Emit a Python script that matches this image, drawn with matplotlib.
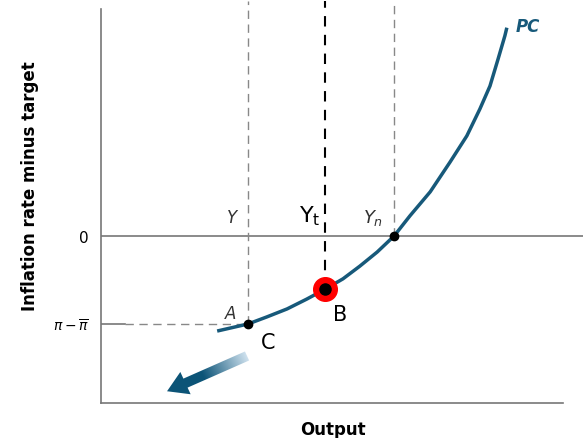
import matplotlib.pyplot as plt
import numpy as np
from matplotlib.patches import FancyArrow

# Phillips curve (output, inflation minus target)
pc_output = [2.41, 3.05, 3.44, 3.86, 4.27, 4.65, 5.02, 5.37, 5.73, 6.08,
             6.41, 6.83, 7.24, 7.59, 7.86, 8.07, 8.24, 8.38, 8.42]
pc_gap = [-2.02, -1.87, -1.72, -1.55, -1.34, -1.13, -0.91, -0.64, -0.34, 0.0,
          0.43, 0.94, 1.57, 2.13, 2.70, 3.19, 3.77, 4.26, 4.43]

point_a = (3.05, -1.87)
point_b = (4.65, -1.13)
point_yn = (6.08, 0.0)

ytick_values = [0.0, -1.87]
ytick_labels = ["0", r"$\pi-\overline{\pi}$"]

arrow_tail = (3.03, -2.55)
arrow_head = (1.37, -3.30)

TEAL = "#17597a"


def main() -> None:
    fig = plt.figure(figsize=(5.83, 4.39), dpi=100)
    ax = fig.add_axes([101 / 583, 35 / 439, 482 / 583, 404 / 439])
    ax.set_xlim(0, 10)
    ax.set_ylim(-3.55, 5.04)

    for side in ["top", "right"]:
        ax.spines[side].set_visible(False)
    ax.spines["left"].set_bounds(-3.55, 4.83)
    ax.spines["bottom"].set_bounds(0, 9.59)
    for side in ["left", "bottom"]:
        ax.spines[side].set_color("#777777")
        ax.spines[side].set_linewidth(1.2)

    ax.set_xticks([])
    ax.set_yticks(ytick_values)
    ax.set_yticklabels(ytick_labels)
    ax.tick_params(axis="y", length=0, pad=9, labelsize=11)
    ax.get_yticklabels()[1].set_fontsize(10)

    # zero line
    ax.axhline(0, color="#777777", lw=1.2)

    # guide lines
    top = 5.0
    ax.plot([point_a[0], point_a[0]], [point_a[1], top], color="#888888", lw=1, dashes=(6, 4))
    ax.plot([point_yn[0], point_yn[0]], [point_yn[1], top], color="#888888", lw=1, dashes=(6, 4))
    ax.plot([point_b[0], point_b[0]], [point_b[1], top], color="black", lw=1.5, dashes=(5, 4))
    ax.plot([0, 0.5], [point_a[1], point_a[1]], color="#777777", lw=1.2)
    ax.plot([0.5, point_a[0]], [point_a[1], point_a[1]], color="#888888", lw=1, dashes=(6, 4))

    # curve
    ax.plot(pc_output, pc_gap, color=TEAL, lw=2.5, solid_capstyle="butt",
            solid_joinstyle="round", zorder=3)

    # points
    ax.plot(*point_a, "o", color="black", ms=6, zorder=4)
    ax.plot(*point_yn, "o", color="black", ms=6, zorder=4)
    ax.plot(*point_b, "o", color="red", ms=17, zorder=4)
    ax.plot(*point_b, "o", color="black", ms=8, zorder=5)

    # labels
    ax.text(2.72, 0.40, "Y", fontsize=12, style="italic", color="#333333", ha="center", va="center")
    ax.text(4.32, 0.45, r"Y$_\mathrm{t}$", fontsize=16, color="black", ha="center", va="center")
    ax.text(5.65, 0.40, r"$Y_n$", fontsize=13, color="#333333", ha="center", va="center")
    ax.text(2.68, -1.63, "A", fontsize=12, style="italic", color="#333333", ha="center", va="center")
    ax.text(4.97, -1.65, "B", fontsize=15, color="black", ha="center", va="center")
    ax.text(3.46, -2.25, "C", fontsize=15, color="black", ha="center", va="center")
    ax.text(8.6, 4.47, "PC", fontsize=12, style="italic", weight="bold", color=TEAL, ha="left", va="center")

    # gradient arrow
    dx = arrow_head[0] - arrow_tail[0]
    dy = arrow_head[1] - arrow_tail[1]
    arrow = FancyArrow(arrow_tail[0], arrow_tail[1], dx, dy, width=0.21,
                       head_width=0.52, head_length=0.42, length_includes_head=True,
                       facecolor="none", edgecolor="none")
    ax.add_patch(arrow)
    x0, x1 = arrow_head[0] - 0.3, arrow_tail[0] + 0.3
    y0, y1 = arrow_head[1] - 0.3, arrow_tail[1] + 0.3
    gx, gy = np.meshgrid(np.linspace(x0, x1, 200), np.linspace(y0, y1, 200))
    length = np.hypot(dx, dy)
    t = ((gx - arrow_tail[0]) * dx + (gy - arrow_tail[1]) * dy) / length ** 2
    t = np.clip(t, 0, 1)
    light = np.array([0.82, 0.89, 0.94])
    dark = np.array([0.05, 0.33, 0.47])
    w = np.clip(t * 1.8, 0, 1)[..., None]
    rgb = light[None, None, :] * (1 - w) + dark[None, None, :] * w
    im = ax.imshow(rgb, extent=[x0, x1, y0, y1], origin="lower", aspect="auto", zorder=3)
    im.set_clip_path(arrow)
    ax.set_xlim(0, 10)
    ax.set_ylim(-3.55, 5.04)

    fig.text(30 / 583, 1 - 186 / 439, "Inflation rate minus target", rotation=90,
             fontsize=12, weight="bold", ha="center", va="center")
    fig.text(333 / 583, 1 - 430 / 439, "Output", fontsize=12, weight="bold",
             ha="center", va="center")

    fig.savefig("out.png", dpi=100)


if __name__ == "__main__":
    main()
